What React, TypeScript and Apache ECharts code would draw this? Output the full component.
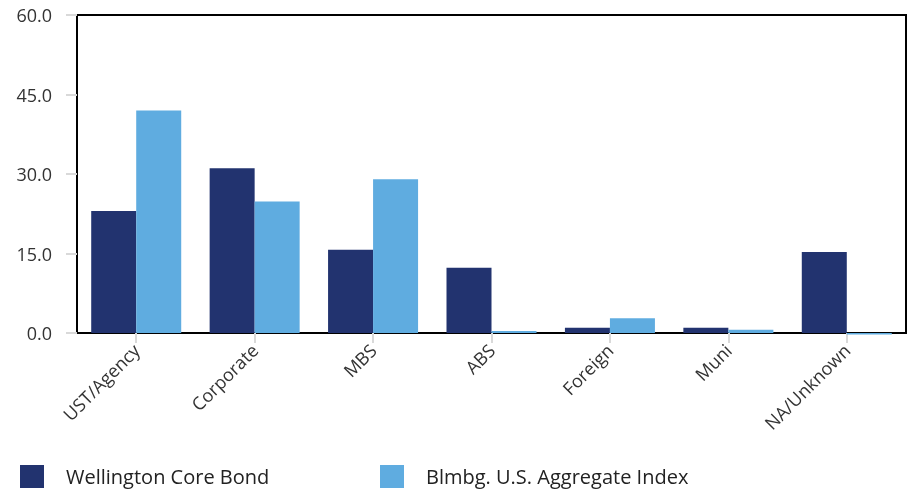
import React, { useEffect, useRef } from "react";
import * as echarts from "echarts";

const categories = ["UST/Agency", "Corporate", "MBS", "ABS", "Foreign", "Muni", "NA/Unknown"];
const wellington = [23.0, 31.1, 15.7, 12.3, 1.0, 1.0, 15.3];
const bloomberg = [42.0, 24.8, 29.0, 0.4, 2.8, 0.6, -0.3];
const seriesNames = ["Wellington Core Bond", "Blmbg. U.S. Aggregate Index"];
const colors = ["#22336F", "#5FACE0"];

export default function App() {
  const ref = useRef<HTMLDivElement>(null);
  useEffect(() => {
    const chart = echarts.init(ref.current!, null, { renderer: "svg" });
    const font = "Open Sans";
    const legendBase = {
      top: 460,
      itemWidth: 24,
      itemHeight: 23,
      icon: "rect",
      textStyle: { fontSize: 20, color: "#222", fontFamily: font, padding: [0, 0, 8, 17] },
    };
    chart.setOption({
      animation: false,
      textStyle: { fontFamily: font },
      grid: {
        left: 77,
        right: 7,
        top: 15,
        bottom: 158,
        show: true,
        borderColor: "#000",
        borderWidth: 2,
      },
      legend: [
        { ...legendBase, left: 15, data: [seriesNames[0]] },
        { ...legendBase, left: 375, data: [seriesNames[1]] },
      ],
      xAxis: {
        type: "category",
        data: categories,
        axisLine: { show: true, lineStyle: { color: "#000", width: 2 } },
        axisTick: { show: true, alignWithLabel: true, length: 10, lineStyle: { color: "#d9d9d9", width: 2 } },
        axisLabel: { rotate: 45, fontSize: 18, color: "#333", margin: 14, interval: 0 },
      },
      yAxis: {
        type: "value",
        min: 0,
        max: 60,
        interval: 15,
        axisLine: { show: true, lineStyle: { color: "#000", width: 2 } },
        axisTick: { show: true, length: 11, lineStyle: { color: "#d9d9d9", width: 2 } },
        splitLine: { show: false },
        axisLabel: {
          fontSize: 18,
          color: "#333",
          margin: 25,
          formatter: (v: number) => v.toFixed(1),
        },
      },
      series: [
        {
          name: seriesNames[0],
          type: "bar",
          data: wellington,
          itemStyle: { color: colors[0] },
          barGap: "0%",
          barCategoryGap: "24%",
          clip: false,
        },
        {
          name: seriesNames[1],
          type: "bar",
          data: bloomberg,
          itemStyle: { color: colors[1] },
          barGap: "0%",
          barCategoryGap: "24%",
          clip: false,
        },
      ],
    });
    return () => chart.dispose();
  }, []);
  return <div ref={ref} style={{ position: "fixed", left: 0, top: 0, width: 913, height: 491 }} />;
}
